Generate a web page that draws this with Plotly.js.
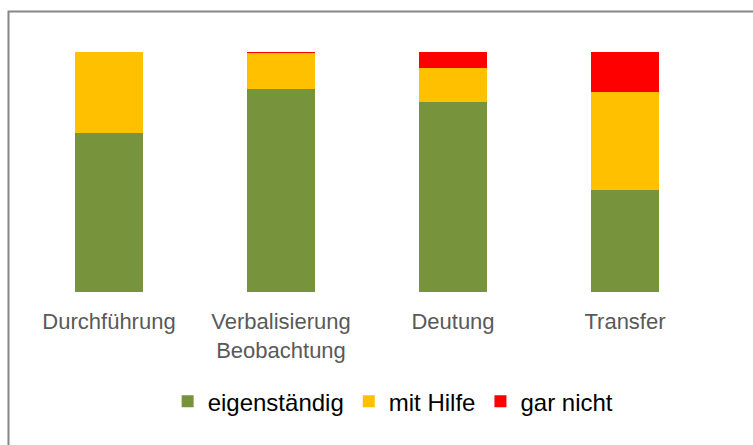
<!DOCTYPE html>
<html>
<head>
<meta charset="utf-8">
<script src="https://cdn.plot.ly/plotly-3.0.1.min.js"></script>
<style>html,body{margin:0;padding:0;background:#fff;}#chart{width:753px;height:445px;}</style>
</head>
<body>
<div id="chart"></div>
<script>
var categories = ["Durchführung", "Verbalisierung<br>Beobachtung", "Deutung", "Transfer"];
var eigenstaendig = [66.2, 84.7, 79.2, 42.3];
var mitHilfe = [33.8, 14.7, 14.1, 41.2];
var garNicht = [0.0, 0.6, 6.7, 16.5];
var seriesNames = ["eigenständig", "mit Hilfe", "gar nicht"];
var seriesColors = ["#77933C", "#FFC000", "#FF0000"];

var values = [eigenstaendig, mitHilfe, garNicht];
var traces = values.map(function (v, i) {
  return {
    type: "bar",
    x: categories,
    y: v,
    name: seriesNames[i],
    marker: { color: seriesColors[i] },
    hoverinfo: "skip"
  };
});

var layout = {
  width: 753,
  height: 445,
  barmode: "stack",
  bargap: 0.6,
  margin: { l: 23, r: 42, t: 52, b: 153 },
  paper_bgcolor: "#ffffff",
  plot_bgcolor: "#ffffff",
  font: { family: "Liberation Sans, Arial, sans-serif" },
  xaxis: {
    showgrid: false,
    zeroline: false,
    showline: false,
    ticks: "",
    ticklabelstandoff: 14,
    tickfont: { size: 22, color: "#595959" },
    fixedrange: true
  },
  yaxis: {
    range: [0, 100],
    visible: false,
    fixedrange: true
  },
  showlegend: true,
  legend: {
    orientation: "h",
    x: 0.538,
    xanchor: "center",
    y: -0.4565,
    yanchor: "middle",
    font: { size: 24, color: "#000000" },
    traceorder: "normal",
    itemwidth: 30
  },
  shapes: [{
    type: "rect",
    xref: "paper", yref: "paper",
    x0: -0.0211, x1: 1.08, y0: -0.7, y1: 1.1685,
    line: { color: "#868686", width: 2 },
    fillcolor: "rgba(0,0,0,0)",
    layer: "below"
  }]
};

Plotly.newPlot("chart", traces, layout, { displayModeBar: false, staticPlot: true });
</script>
</body>
</html>
